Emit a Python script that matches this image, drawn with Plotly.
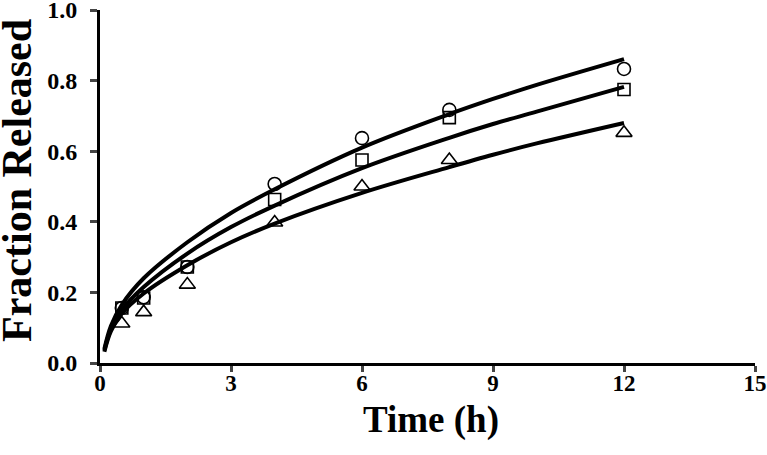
import plotly.graph_objects as go

# Observed data (Fraction released vs time, h)
t_obs = [0.5, 1, 2, 4, 6, 8, 12]
circle_obs = [0.156, 0.186, 0.272, 0.507, 0.637, 0.717, 0.833]
square_obs = [0.156, 0.184, 0.272, 0.463, 0.575, 0.695, 0.775]
triangle_obs = [0.112, 0.144, 0.222, 0.398, 0.500, 0.575, 0.652]

# Fitted curves
t_fit = [0.1, 0.25, 0.5, 1, 2, 3, 4, 6, 8, 9, 10, 12]
circle_fit = [0.040, 0.105, 0.165, 0.240, 0.342, 0.425, 0.492, 0.610, 0.705, 0.748, 0.788, 0.861]
square_fit = [0.036, 0.096, 0.150, 0.215, 0.310, 0.385, 0.446, 0.552, 0.638, 0.677, 0.712, 0.782]
triangle_fit = [0.032, 0.090, 0.140, 0.197, 0.277, 0.342, 0.395, 0.482, 0.555, 0.590, 0.622, 0.680]

x_ticks = [0, 3, 6, 9, 12, 15]
y_ticks = [0.0, 0.2, 0.4, 0.6, 0.8, 1.0]
y_tick_labels = ["0.0", "0.2", "0.4", "0.6", "0.8", "1.0"]

fig = go.Figure()

for yf in (circle_fit, square_fit, triangle_fit):
    fig.add_trace(go.Scatter(x=t_fit, y=yf, mode="lines",
                             line=dict(color="black", width=4, shape="spline"),
                             showlegend=False, hoverinfo="skip"))

marker_line = dict(color="black", width=1.6)
fig.add_trace(go.Scatter(x=t_obs, y=circle_obs, mode="markers", showlegend=False,
                         marker=dict(symbol="circle-open", size=13, line=marker_line, color="black")))
fig.add_trace(go.Scatter(x=t_obs, y=square_obs, mode="markers", showlegend=False,
                         marker=dict(symbol="square-open", size=12, line=marker_line, color="black")))
fig.add_trace(go.Scatter(x=t_obs, y=triangle_obs, mode="markers", showlegend=False,
                         marker=dict(symbol="triangle-up-open", size=14, line=marker_line, color="black")))

font_family = "Liberation Serif, Times New Roman, serif"

fig.update_layout(
    width=767, height=455,
    margin=dict(l=100, r=12, t=10, b=92),
    paper_bgcolor="white", plot_bgcolor="white",
    font=dict(family=font_family, color="black"),
    xaxis=dict(range=[0, 15], tickvals=x_ticks, ticks="outside", ticklen=6, tickwidth=2.5,
               showline=True, linewidth=3, linecolor="black", showgrid=False, zeroline=False,
               automargin=False, ticklabelstandoff=-9, ticklabeloverflow="allow",
               tickfont=dict(size=23, family=font_family, weight="bold")),
    yaxis=dict(range=[0, 1.0], tickvals=y_ticks, ticktext=y_tick_labels, ticks="outside",
               ticklen=7, tickwidth=2.5, automargin=False, ticklabeloverflow="allow",
               showline=True, linewidth=3, linecolor="black", showgrid=False, zeroline=False,
               tickfont=dict(size=24, family=font_family, weight="bold"),
               ticklabelstandoff=8),
    annotations=[
        dict(text="<b>Time (h)</b>", xref="paper", yref="paper", x=0.505, y=-0.161,
             xanchor="center", yanchor="middle", showarrow=False,
             font=dict(size=37, family=font_family)),
        dict(text="<b>Fraction Released</b>", xref="paper", yref="paper", x=-0.127, y=0.518,
             xanchor="center", yanchor="middle", showarrow=False, textangle=-90,
             font=dict(size=42, family=font_family)),
    ],
)

# remove the default 8px page margin so the figure fills the window exactly
fig.write_html("out.html", config={"displayModeBar": False},
               post_script="document.body.style.margin='0';")
